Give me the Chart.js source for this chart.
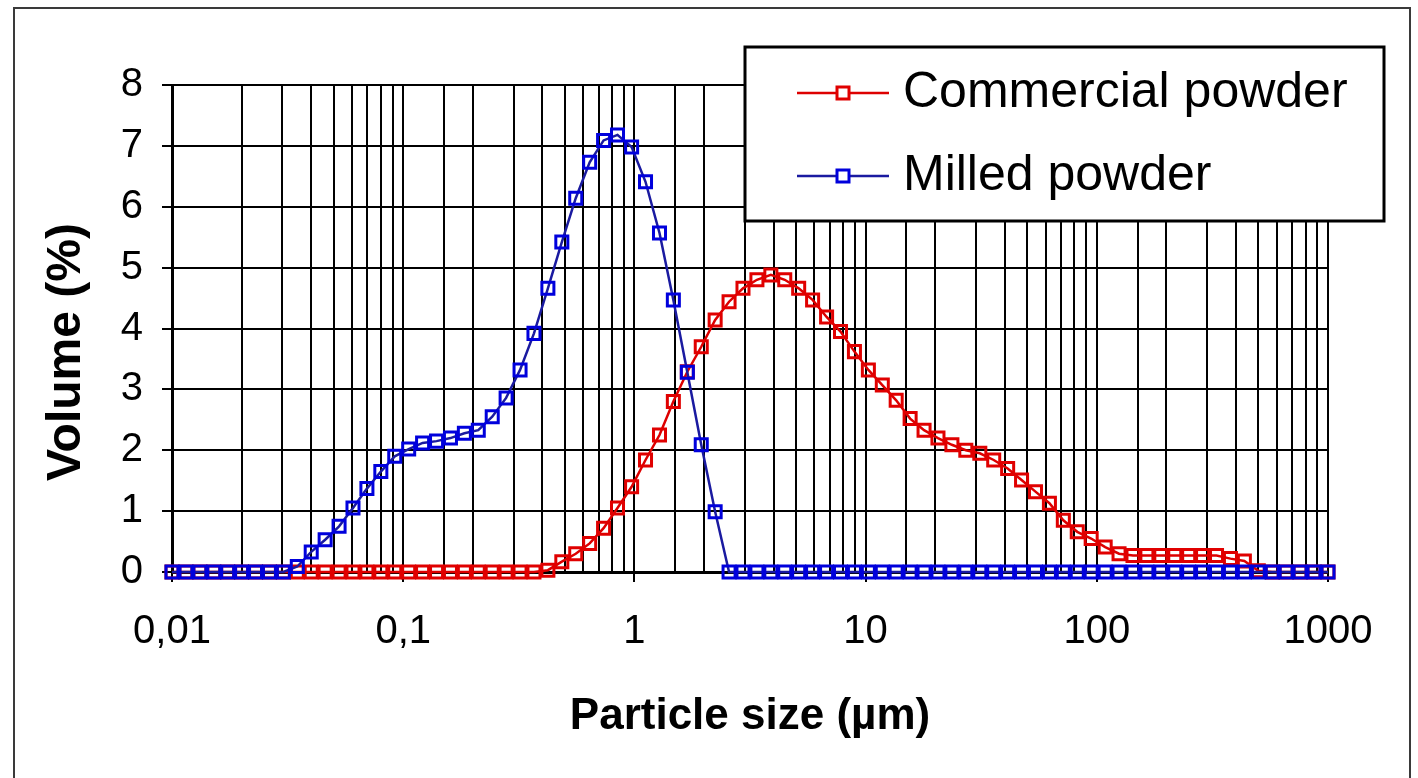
<!DOCTYPE html>
<html>
<head>
<meta charset="utf-8">
<title>Particle size distribution</title>
<script src="https://cdn.jsdelivr.net/npm/chart.js"></script>
<style>
  body { margin: 0; background: #fff; }
</style>
</head>
<body>
<canvas id="myChart" width="1418" height="778"></canvas>
<script>
// particle size classes (µm)
var sizes = [
  0.01, 0.01149, 0.0132, 0.01516, 0.01741, 0.02, 0.02298, 0.02639, 0.03032, 0.03483,
  0.04001, 0.04596, 0.0528, 0.06065, 0.06967, 0.08003, 0.09193, 0.1056, 0.1213, 0.1394,
  0.1601, 0.1839, 0.2112, 0.2427, 0.2787, 0.3202, 0.3678, 0.4225, 0.4854, 0.5575,
  0.6405, 0.7357, 0.8451, 0.9726, 1.117, 1.284, 1.474, 1.694, 1.946, 2.235,
  2.567, 2.949, 3.388, 3.892, 4.47, 5.135, 5.899, 6.781, 7.789, 8.948,
  10.28, 11.81, 13.56, 15.58, 17.9, 20.56, 23.62, 27.13, 31.19, 35.82,
  41.15, 47.27, 54.3, 62.38, 71.65, 82.31, 94.55, 108.7, 124.8, 143.4,
  164.7, 189.2, 217.4, 249.7, 286.8, 329.5, 378.5, 434.8, 499.5, 573.7,
  659.1, 757.1, 869.7, 1000
];

// volume (%)
var commercial = [
  0, 0, 0, 0, 0, 0, 0, 0, 0, 0,
  0, 0, 0, 0, 0, 0, 0, 0, 0, 0,
  0, 0, 0, 0, 0, 0, 0, 0.03, 0.17, 0.3,
  0.47, 0.72, 1.05, 1.4, 1.84, 2.25, 2.8, 3.29, 3.7, 4.14,
  4.44, 4.66, 4.8, 4.88, 4.8, 4.66, 4.47, 4.19, 3.95, 3.62,
  3.32, 3.07, 2.82, 2.52, 2.33, 2.2, 2.09, 2.0, 1.95, 1.84,
  1.7, 1.51, 1.32, 1.13, 0.85, 0.66, 0.55, 0.41, 0.3, 0.27,
  0.27, 0.27, 0.27, 0.27, 0.27, 0.27, 0.22, 0.18, 0.02, 0,
  0, 0, 0, 0
];

var milled = [
  0, 0, 0, 0, 0, 0, 0, 0, 0, 0.09,
  0.33, 0.53, 0.75, 1.05, 1.37, 1.65, 1.9, 2.02, 2.12, 2.15,
  2.2, 2.28, 2.33, 2.55, 2.86, 3.32, 3.92, 4.66, 5.42, 6.14,
  6.73, 7.09, 7.18, 6.98, 6.41, 5.57, 4.47, 3.28, 2.09, 0.99,
  0, 0, 0, 0, 0, 0, 0, 0, 0, 0,
  0, 0, 0, 0, 0, 0, 0, 0, 0, 0,
  0, 0, 0, 0, 0, 0, 0, 0, 0, 0,
  0, 0, 0, 0, 0, 0, 0, 0, 0, 0,
  0, 0, 0, 0
];

var seriesNames = ["Commercial powder", "Milled powder"];
var xTitle = "Particle size (µm)";
var yTitle = "Volume (%)";

var redLine = "#dd0000", redMark = "#e00000";
var blueLine = "#1a1aa0", blueMark = "#0000dc";
var font = "Arial, 'Liberation Sans', sans-serif";

function isDecade(v) {
  var l = Math.log10(v);
  return Math.abs(l - Math.round(l)) < 1e-6;
}

function toPoints(ys) {
  return sizes.map(function (s, i) { return { x: s, y: ys[i] }; });
}

// frame, legend box and vertical axis title
var decor = {
  id: "decor",
  beforeDraw: function (chart) {
    var c = chart.ctx;
    c.save();
    c.fillStyle = "#fff";
    c.fillRect(0, 0, chart.width, chart.height);
    c.strokeStyle = "#3a3a3a";
    c.lineWidth = 2;
    c.strokeRect(14, 8, 1396, 800);
    c.restore();
  },
  afterDraw: function (chart) {
    var c = chart.ctx;
    c.save();
    // legend
    c.fillStyle = "#fff";
    c.fillRect(745, 47, 639, 174);
    c.strokeStyle = "#000";
    c.lineWidth = 3;
    c.strokeRect(745, 47, 639, 174);
    var rows = [[redLine, redMark, 93], [blueLine, blueMark, 176]];
    rows.forEach(function (r, i) {
      c.strokeStyle = r[0];
      c.lineWidth = 2.5;
      c.beginPath();
      c.moveTo(797, r[2]);
      c.lineTo(889, r[2]);
      c.stroke();
      c.fillStyle = "#fff";
      c.fillRect(837, r[2] - 6, 12, 12);
      c.strokeStyle = r[1];
      c.lineWidth = 3;
      c.strokeRect(837, r[2] - 6, 12, 12);
      c.fillStyle = "#000";
      c.font = "50px " + font;
      c.textAlign = "left";
      c.textBaseline = "middle";
      c.fillText(seriesNames[i], 903, r[2]);
    });
    // y title
    c.translate(67, 352);
    c.rotate(-Math.PI / 2);
    c.font = "bold 48px " + font;
    c.textAlign = "center";
    c.textBaseline = "middle";
    c.fillText(yTitle, 0, 0);
    c.restore();
  }
};

new Chart("myChart", {
  type: "scatter",
  data: {
    datasets: [{
      label: seriesNames[0],
      data: toPoints(commercial),
      showLine: true,
      borderColor: redLine,
      borderWidth: 2.5,
      pointStyle: "rect",
      pointRadius: 8.5,
      pointBorderWidth: 3,
      pointBorderColor: redMark,
      pointBackgroundColor: "rgba(0,0,0,0)",
      order: 1,
      clip: false
    }, {
      label: seriesNames[1],
      data: toPoints(milled),
      showLine: true,
      borderColor: blueLine,
      borderWidth: 2.5,
      pointStyle: "rect",
      pointRadius: 8.5,
      pointBorderWidth: 3,
      pointBorderColor: blueMark,
      pointBackgroundColor: "rgba(0,0,0,0)",
      order: 0,
      clip: false
    }]
  },
  options: {
    responsive: false,
    animation: false,
    devicePixelRatio: 1,
    layout: { padding: { left: 0, top: 85, right: 90, bottom: 0 } },
    plugins: {
      legend: { display: false },
      tooltip: { enabled: false }
    },
    scales: {
      x: {
        type: "logarithmic",
        min: 0.01,
        max: 1000,
        afterFit: function (scale) { scale.height = 206; },
        border: { display: true, color: "#000", width: 3 },
        grid: {
          color: "#000",
          lineWidth: 2,
          tickLength: 10,
          tickColor: function (ctx) {
            return ctx.tick && isDecade(ctx.tick.value) ? "#000" : "rgba(0,0,0,0)";
          }
        },
        ticks: {
          autoSkip: false,
          maxRotation: 0,
          padding: 26,
          color: "#000",
          font: { family: font, size: 40 },
          callback: function (v) {
            if (!isDecade(v)) return "";
            var dec = Math.max(0, -Math.round(Math.log10(v)));
            return Number(v).toFixed(dec).replace(".", ",");
          }
        },
        title: {
          display: true,
          text: xTitle,
          color: "#000",
          font: { family: font, size: 44, weight: "bold" },
          padding: { top: 0, bottom: 35 }
        }
      },
      y: {
        min: 0,
        max: 8,
        afterFit: function (scale) { scale.width = 172; },
        border: { display: true, color: "#000", width: 3 },
        grid: { color: "#000", lineWidth: 2, tickLength: 10 },
        ticks: {
          stepSize: 1,
          padding: 19,
          color: "#000",
          font: { family: font, size: 40 }
        }
      }
    }
  },
  plugins: [decor]
});
</script>
</body>
</html>
